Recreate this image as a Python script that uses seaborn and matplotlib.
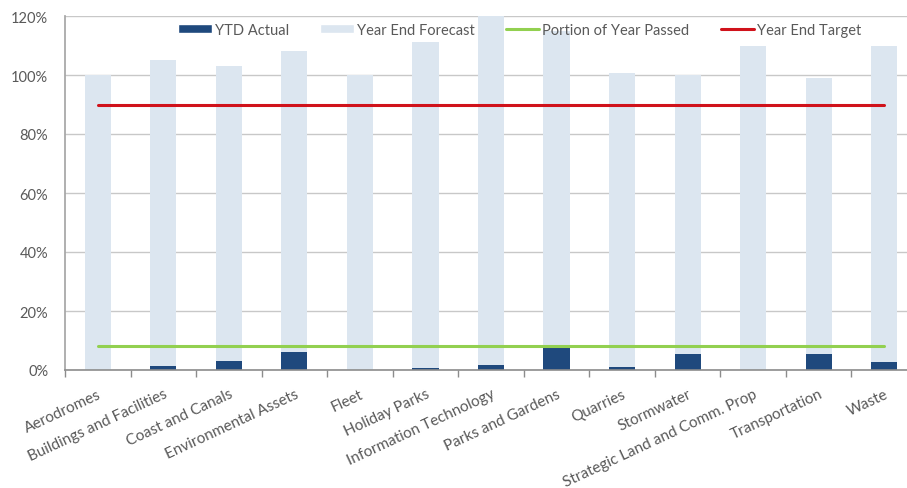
import numpy as np
import pandas as pd
import matplotlib
matplotlib.use("Agg")
import matplotlib.pyplot as plt
from matplotlib.lines import Line2D
from matplotlib.patches import Patch
import seaborn as sns

categories = ["Aerodromes", "Buildings and Facilities", "Coast and Canals",
              "Environmental Assets", "Fleet", "Holiday Parks",
              "Information Technology", "Parks and Gardens", "Quarries",
              "Stormwater", "Strategic Land and Comm. Prop", "Transportation",
              "Waste"]
ytd_actual = [0.0, 1.4, 3.2, 6.0, 0.0, 0.8, 1.8, 7.3, 0.9, 5.4, 0.0, 5.4, 2.6]
year_end_forecast = [100.0, 105.1, 103.0, 108.2, 100.0, 111.2, 122.0, 115.0,
                     100.7, 100.0, 109.8, 99.0, 110.0]
portion_of_year = [8.3] * 13
year_end_target = [90.0] * 13
y_ticks = [0, 20, 40, 60, 80, 100, 120]

sns.set_theme(style="white")
plt.rcParams["font.family"] = ["Lato", "DejaVu Sans"]

C_ACTUAL = "#1F497D"
C_FORECAST = "#DCE6F0"
C_PORTION = "#92D050"
C_TARGET = "#D0121B"
C_TEXT = "#595959"
C_GRID = "#C8C8C8"

df = pd.DataFrame({"category": categories, "actual": ytd_actual,
                   "forecast": year_end_forecast})

fig = plt.figure(figsize=(9.07, 4.89), dpi=100)
ax = fig.add_axes([65 / 907, 1 - 371 / 489, (917 - 65) / 907, (371 - 17) / 489])

sns.barplot(data=df, x="category", y="forecast", color=C_FORECAST,
            saturation=1, width=0.4, linewidth=0, ax=ax, zorder=2)
sns.barplot(data=df, x="category", y="actual", color=C_ACTUAL,
            saturation=1, width=0.4, linewidth=0, ax=ax, zorder=3)
pos = np.arange(len(categories))
sns.lineplot(x=pos, y=portion_of_year, color=C_PORTION, lw=2.2, ax=ax,
             zorder=4, sort=False)
sns.lineplot(x=pos, y=year_end_target, color=C_TARGET, lw=2.2, ax=ax,
             zorder=4, sort=False)

ax.set_xlim(-0.5, len(categories) - 0.5)
ax.set_ylim(0, 120)
ax.set_yticks(y_ticks)
ax.set_yticklabels([f"{v}%" for v in y_ticks])
ax.set_xticks(pos)
ax.set_xticklabels(categories, rotation=25, ha="right", rotation_mode="anchor")
ax.set_xticks(np.arange(-0.5, len(categories), 1), minor=True)
ax.tick_params(axis="x", which="major", length=0, pad=12, labelsize=11,
               labelcolor=C_TEXT)
ax.tick_params(axis="x", which="minor", length=5, width=1, color="#8C8C8C",
               direction="out", bottom=True)
ax.tick_params(axis="y", length=0, pad=12, labelsize=10.5, labelcolor=C_TEXT)
ax.set_xlabel("")
ax.set_ylabel("")

ax.yaxis.grid(True, color=C_GRID, lw=1)
ax.set_axisbelow(True)
for side in ("top", "right"):
    ax.spines[side].set_visible(False)
ax.spines["left"].set_color("#A6A6A6")
ax.spines["bottom"].set_color("#8C8C8C")
ax.spines["bottom"].set_linewidth(1.2)
ax.spines["bottom"].set_zorder(5)

handles = [Patch(facecolor=C_ACTUAL), Patch(facecolor=C_FORECAST),
           Line2D([], [], color=C_PORTION, lw=2.2),
           Line2D([], [], color=C_TARGET, lw=2.2)]
labels = ["YTD Actual", "Year End Forecast", "Portion of Year Passed",
          "Year End Target"]
leg = fig.legend(handles, labels, ncol=4, frameon=False,
                 loc="center", bbox_to_anchor=(520 / 907, 1 - 31 / 489),
                 fontsize=10.5, handlelength=2.3, handleheight=0.6,
                 columnspacing=2.15, handletextpad=0.2)
for t in leg.get_texts():
    t.set_color(C_TEXT)

fig.savefig("out.png", dpi=100)
